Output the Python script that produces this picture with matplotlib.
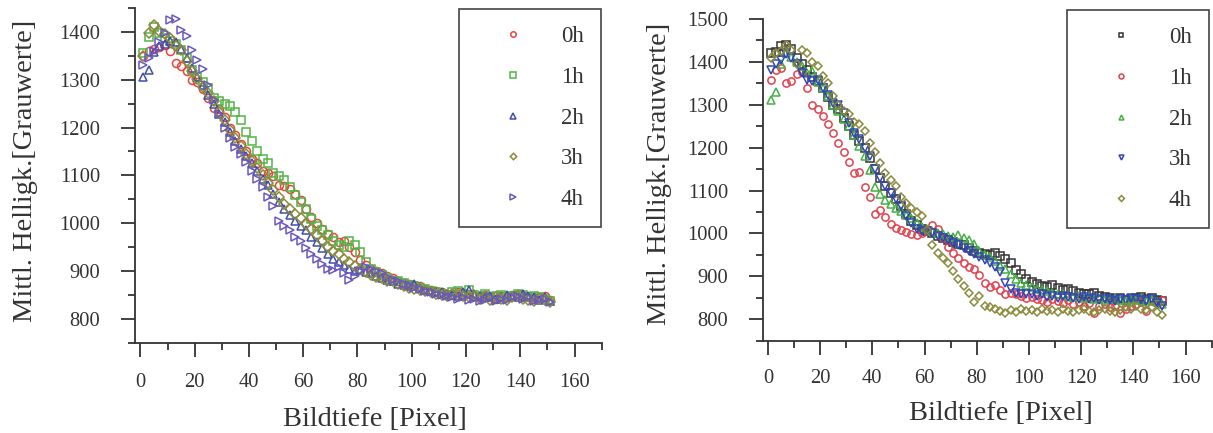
import numpy as np
import matplotlib
matplotlib.use("Agg")
import matplotlib.pyplot as plt
from matplotlib.ticker import MultipleLocator

plt.rcParams['font.family'] = ['Liberation Serif', 'DejaVu Serif']

# ---------------- data ----------------
depth = np.arange(1, 152, 2)  # Bildtiefe [Pixel]

series_labels = ['0h', '1h', '2h', '3h', '4h']

# left panel
left_0h = [1350, 1360, 1365, 1368, 1372, 1360, 1335, 1328, 1318, 1300,
           1295, 1280, 1262, 1240, 1238, 1222, 1200, 1185, 1165, 1150,
           1135, 1125, 1110, 1105, 1098, 1080, 1078, 1072, 1060, 1048,
           1030, 1012, 1000, 988, 978, 972, 960, 962, 950, 940,
           922, 912, 905, 900, 895, 890, 885, 880, 875, 872,
           870, 868, 862, 860, 858, 855, 852, 850, 855, 848,
           852, 848, 845, 850, 845, 842, 848, 845, 850, 852,
           848, 845, 842, 845, 848, 840]
left_1h = [1355, 1390, 1410, 1398, 1388, 1382, 1375, 1362, 1345, 1320,
           1305, 1295, 1282, 1262, 1255, 1250, 1245, 1232, 1215, 1190,
           1172, 1150, 1135, 1125, 1105, 1098, 1090, 1075, 1058, 1045,
           1030, 1008, 995, 985, 975, 962, 955, 950, 962, 955,
           940, 918, 905, 898, 892, 885, 880, 878, 875, 870,
           868, 865, 862, 858, 855, 852, 850, 855, 858, 852,
           860, 850, 848, 852, 845, 848, 850, 845, 848, 852,
           850, 845, 848, 845, 842, 838]
left_2h = [1305, 1320, 1358, 1370, 1375, 1382, 1378, 1365, 1345, 1325,
           1305, 1288, 1268, 1250, 1228, 1212, 1190, 1172, 1155, 1140,
           1125, 1110, 1092, 1080, 1062, 1045, 1030, 1018, 1005, 995,
           985, 972, 960, 948, 935, 925, 918, 912, 905, 900,
           902, 898, 895, 890, 885, 882, 878, 872, 870, 868,
           872, 865, 860, 858, 855, 856, 852, 850, 848, 855,
           860, 852, 848, 845, 848, 842, 845, 850, 848, 845,
           852, 848, 845, 840, 845, 838]
left_3h = [1350, 1398, 1415, 1402, 1395, 1388, 1370, 1362, 1340, 1318,
           1302, 1285, 1272, 1255, 1232, 1215, 1195, 1178, 1162, 1145,
           1130, 1115, 1100, 1085, 1070, 1055, 1040, 1030, 1020, 1010,
           998, 988, 975, 962, 950, 942, 935, 925, 918, 910,
           905, 898, 892, 888, 885, 880, 878, 872, 868, 865,
           862, 860, 858, 855, 852, 850, 848, 852, 850, 848,
           845, 848, 842, 845, 840, 845, 842, 840, 845, 848,
           842, 840, 838, 842, 840, 835]
left_4h = [1330, 1345, 1360, 1378, 1398, 1425, 1428, 1405, 1392, 1362,
           1342, 1322, 1290, 1258, 1228, 1200, 1178, 1160, 1145, 1128,
           1110, 1092, 1075, 1055, 1035, 1005, 995, 985, 972, 962,
           948, 935, 925, 915, 905, 902, 908, 895, 882, 890,
           900, 908, 905, 900, 895, 888, 882, 878, 872, 870,
           865, 862, 858, 855, 852, 850, 848, 845, 842, 845,
           840, 842, 838, 840, 845, 838, 842, 840, 845, 848,
           842, 845, 838, 840, 842, 835]

# right panel
right_0h = [1420, 1422, 1438, 1440, 1430, 1410, 1395, 1380, 1365, 1355,
            1340, 1318, 1300, 1290, 1270, 1250, 1230, 1215, 1200, 1175,
            1150, 1130, 1110, 1095, 1080, 1065, 1045, 1030, 1020, 1010,
            1005, 1000, 995, 990, 985, 980, 975, 972, 965, 960,
            955, 952, 950, 955, 948, 940, 930, 915, 905, 895,
            888, 882, 878, 875, 880, 872, 868, 870, 865, 862,
            860, 858, 862, 855, 852, 850, 848, 850, 845, 848,
            850, 852, 848, 850, 845, 842]
right_1h = [1358, 1380, 1385, 1350, 1355, 1372, 1377, 1339, 1300, 1290,
            1275, 1255, 1234, 1212, 1190, 1166, 1140, 1143, 1108, 1085,
            1045, 1055, 1038, 1022, 1012, 1008, 1003, 998, 996, 1000,
            1005, 1019, 1010, 990, 968, 955, 942, 930, 922, 918,
            903, 884, 875, 880, 868, 860, 862, 858, 855, 850,
            852, 848, 845, 840, 848, 842, 838, 845, 835, 840,
            832, 838, 815, 830, 835, 828, 832, 815, 825, 830,
            835, 840, 820, 842, 838, 845]
right_2h = [1311, 1330, 1395, 1420, 1412, 1400, 1390, 1375, 1378, 1352,
            1340, 1320, 1300, 1285, 1268, 1250, 1230, 1205, 1180, 1148,
            1108, 1092, 1078, 1068, 1060, 1052, 1042, 1035, 1025, 1015,
            1010, 1005, 1000, 998, 995, 992, 996, 990, 985, 975,
            960, 950, 945, 935, 925, 918, 905, 895, 885, 880,
            875, 870, 868, 865, 862, 860, 858, 855, 852, 855,
            850, 852, 848, 850, 845, 848, 850, 845, 842, 848,
            845, 850, 842, 845, 840, 835]
right_3h = [1381, 1395, 1405, 1418, 1410, 1395, 1375, 1358, 1355, 1358,
            1340, 1322, 1305, 1300, 1280, 1258, 1235, 1220, 1200, 1180,
            1150, 1130, 1110, 1095, 1080, 1065, 1040, 1025, 1010, 1005,
            1005, 1000, 995, 990, 985, 978, 972, 965, 960, 953,
            945, 938, 930, 922, 910, 885, 870, 862, 860, 858,
            860, 855, 858, 852, 855, 850, 855, 852, 850, 848,
            852, 848, 850, 845, 848, 845, 842, 848, 845, 850,
            848, 845, 842, 848, 838, 832]
right_4h = [1410, 1420, 1425, 1439, 1428, 1395, 1428, 1420, 1400, 1390,
            1368, 1350, 1320, 1300, 1285, 1278, 1260, 1255, 1240, 1210,
            1190, 1165, 1140, 1125, 1110, 1085, 1070, 1060, 1050, 1040,
            1008, 972, 955, 942, 930, 912, 895, 878, 862, 840,
            855, 832, 828, 825, 820, 815, 822, 818, 825, 820,
            822, 818, 825, 820, 822, 818, 825, 820, 818, 822,
            825, 820, 818, 822, 825, 820, 818, 822, 828, 825,
            830, 825, 822, 828, 818, 810]

left_data = [left_0h, left_1h, left_2h, left_3h, left_4h]
right_data = [right_0h, right_1h, right_2h, right_3h, right_4h]

left_markers = ['o', 's', '^', 'D', '>']
left_colors = ['#e8453c', '#52b447', '#3d4fae', '#8c8a3a', '#6a58c0']
right_markers = ['s', 'o', '^', 'v', 'D']
right_colors = ['#333333', '#e4404c', '#45b045', '#3346b8', '#8a8a3c']

xlabel_text = 'Bildtiefe [Pixel]'
ylabel_text = 'Mittl. Helligk.[Grauwerte]'

# ---------------- figure ----------------
W, H = 1213, 433
fig = plt.figure(figsize=(W / 100, H / 100), dpi=100)

dark = '#333333'

def px_axes(x0, x1, ytop, ybot):
    return fig.add_axes([x0 / W, 1 - ybot / H, (x1 - x0) / W, (ybot - ytop) / H])

ax1 = px_axes(135, 601.7, 8, 342.7)
ax2 = px_axes(762.7, 1211.7, 19, 340.7)


def style(ax, ylim, xlab_px, ylab_px, ybot, ytop, x0, x1, xpad, ypad):
    ax.set_xlim(-2, 170)
    ax.set_ylim(*ylim)
    for s in ['top', 'right']:
        ax.spines[s].set_visible(False)
    for s in ['left', 'bottom']:
        ax.spines[s].set_linewidth(1.3)
        ax.spines[s].set_color(dark)
    ax.xaxis.set_major_locator(MultipleLocator(20))
    ax.xaxis.set_minor_locator(MultipleLocator(10))
    ax.yaxis.set_major_locator(MultipleLocator(100))
    ax.yaxis.set_minor_locator(MultipleLocator(50))
    ax.tick_params(which='major', direction='out', length=10, width=1.3,
                   color=dark, labelcolor=dark, labelsize=14.8)
    ax.tick_params(which='minor', direction='out', length=5, width=1.3, color=dark)
    ax.tick_params(axis='x', which='major', pad=xpad)
    ax.tick_params(axis='y', which='major', pad=ypad)
    ax.set_xlabel(xlabel_text, fontsize=20.5, color=dark, va='center')
    ax.set_ylabel(ylabel_text, fontsize=20.5, color=dark, va='center')
    w = x1 - x0
    h = ybot - ytop
    ax.xaxis.set_label_coords((xlab_px[0] - x0) / w, (ybot - xlab_px[1]) / h)
    ax.yaxis.set_label_coords((ylab_px[0] - x0) / w, (ybot - ylab_px[1]) / h)


for y, m, c, lab in zip(left_data, left_markers, left_colors, series_labels):
    ax1.plot(depth, y, linestyle='none', marker=m, mfc='none', mec=c,
             ms=5.8 if m != 'D' else 4.8, mew=1.1, label=lab)
for y, m, c, lab in zip(right_data, right_markers, right_colors, series_labels):
    ax2.plot(depth, y, linestyle='none', marker=m, mfc='none', mec=c,
             ms=5.2 if m != 'D' else 4.4, mew=1.1, label=lab)

style(ax1, (750, 1450), (375, 419), (26, 171), 342.7, 8, 135, 601.7, 12, 15)
style(ax2, (750, 1500), (1001, 413), (660, 174), 340.7, 19, 762.7, 1211.7, 10.5, 15)

leg_kw = dict(numpoints=1, markerscale=0.68, fontsize=16.5, frameon=True,
              fancybox=False, framealpha=1, borderpad=0.75, labelspacing=0.86,
              handlelength=3.2, handletextpad=0.5, borderaxespad=0)

leg1 = ax1.legend(loc='upper left', bbox_to_anchor=(459 / W, 1 - 9 / H),
                  bbox_transform=fig.transFigure, **leg_kw)
leg2 = ax2.legend(loc='upper left', bbox_to_anchor=(1067 / W, 1 - 10 / H),
                  bbox_transform=fig.transFigure, **leg_kw)
for leg in (leg1, leg2):
    leg.get_frame().set_edgecolor('#444444')
    leg.get_frame().set_linewidth(1.2)
    for t in leg.get_texts():
        t.set_color(dark)

fig.savefig('out.png', dpi=100)
